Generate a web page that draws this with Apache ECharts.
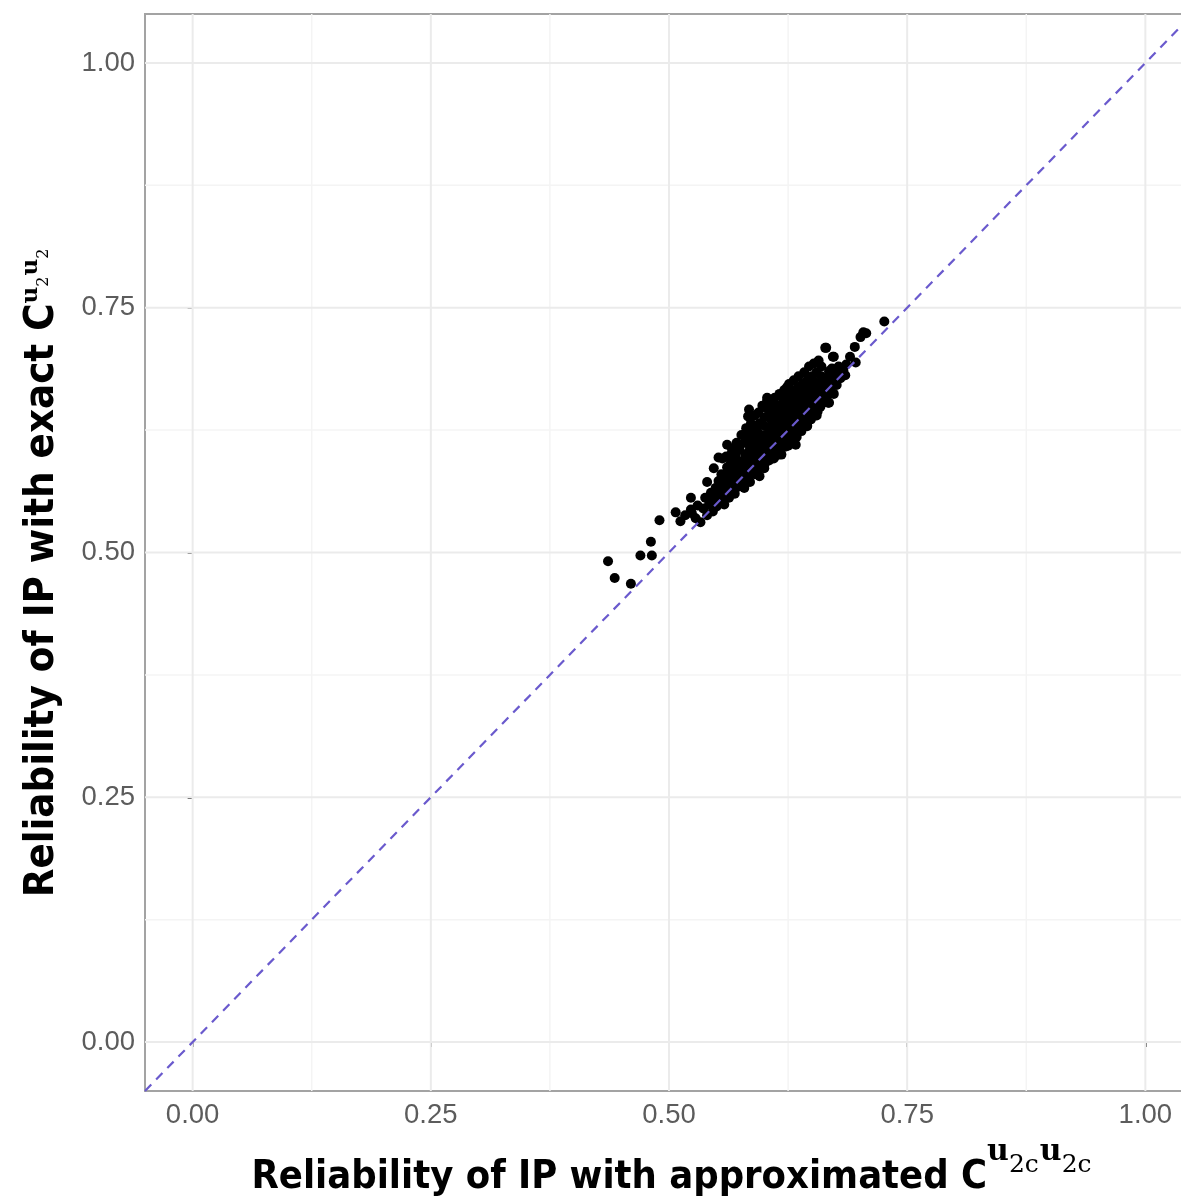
<!DOCTYPE html>
<html>
<head>
<meta charset="utf-8">
<script src="https://cdn.jsdelivr.net/npm/echarts@6/dist/echarts.min.js"></script>
<style>
html,body{margin:0;padding:0;background:#fff;}
#chart{width:1181px;height:1200px;}
</style>
</head>
<body>
<div id="chart"></div>
<script>
// ---- data ----
var tickValues = [0, 0.25, 0.5, 0.75, 1.0];
var minorValues = [0.125, 0.375, 0.625, 0.875];
var axisRange = [-0.05, 1.05];

// scattered low / high points  [approximated, exact]
var outlierPoints = [
  [0.436,0.491],[0.443,0.474],[0.460,0.468],[0.470,0.497],[0.482,0.497],
  [0.481,0.511],[0.490,0.533],[0.507,0.541],[0.512,0.532],[0.517,0.538],
  [0.523,0.544],[0.523,0.556],
  [0.726,0.736],[0.704,0.725],[0.701,0.720],[0.707,0.724],[0.665,0.709],
  [0.673,0.700],[0.696,0.694],[0.625,0.669],[0.668,0.653],[0.695,0.710],
  [0.690,0.700],[0.686,0.692]
];

// dense cluster
var clusterPoints = [
  [0.524,0.540],[0.528,0.535],[0.530,0.548],[0.533,0.531],[0.536,0.545],[0.538,0.556],[0.540,0.538],[0.542,0.549],[0.544,0.561],[0.546,0.542],[0.547,0.553],[0.549,0.566],
  [0.550,0.547],[0.551,0.558],[0.552,0.573],[0.553,0.552],[0.554,0.564],[0.555,0.580],[0.556,0.556],[0.557,0.569],[0.558,0.549],[0.559,0.575],[0.560,0.561],[0.561,0.587],[0.562,0.568],[0.563,0.556],[0.564,0.578],
  [0.565,0.592],[0.566,0.563],[0.567,0.572],[0.568,0.584],[0.569,0.560],[0.570,0.598],[0.571,0.576],[0.572,0.567],[0.573,0.588],[0.574,0.605],[0.575,0.580],[0.576,0.571],[0.577,0.593],[0.578,0.584],[0.579,0.566],[0.580,0.600],
  [0.581,0.612],[0.582,0.578],[0.583,0.590],[0.584,0.603],[0.585,0.572],[0.586,0.596],[0.587,0.585],[0.588,0.617],[0.589,0.607],[0.590,0.580],[0.591,0.599],[0.592,0.590],[0.593,0.623],[0.594,0.610],[0.595,0.586],[0.596,0.603],[0.597,0.594],[0.598,0.615],[0.599,0.630],[0.600,0.589],
  [0.601,0.607],[0.602,0.598],[0.603,0.655],[0.604,0.620],[0.605,0.594],[0.606,0.611],[0.607,0.636],[0.608,0.603],[0.609,0.624],[0.610,0.615],[0.611,0.598],[0.612,0.641],[0.613,0.609],[0.614,0.628],[0.615,0.619],[0.616,0.604],[0.617,0.645],[0.618,0.632],[0.619,0.612],[0.620,0.624],
  [0.621,0.651],[0.622,0.608],[0.623,0.637],[0.624,0.669],[0.625,0.617],[0.626,0.628],[0.627,0.645],[0.628,0.612],[0.629,0.657],[0.630,0.632],[0.631,0.621],[0.632,0.648],[0.633,0.638],[0.634,0.618],[0.635,0.660],[0.636,0.627],[0.637,0.643],[0.638,0.652],[0.639,0.624],[0.640,0.635],
  [0.641,0.663],[0.642,0.630],[0.643,0.646],[0.644,0.656],[0.645,0.629],[0.646,0.640],[0.647,0.668],[0.648,0.650],[0.649,0.636],[0.650,0.659],[0.651,0.645],[0.652,0.675],[0.653,0.640],[0.654,0.664],[0.655,0.652],[0.656,0.644],[0.657,0.671],[0.658,0.658],[0.659,0.649],[0.660,0.680],
  [0.661,0.664],[0.662,0.654],[0.664,0.709],[0.665,0.670],[0.666,0.660],[0.667,0.653],[0.668,0.685],[0.669,0.666],[0.670,0.676],[0.672,0.700],[0.673,0.662],[0.674,0.682],[0.676,0.671],[0.678,0.690],[0.680,0.678],[0.683,0.686],[0.685,0.681],
  [0.545,0.550],[0.548,0.558],[0.553,0.560],[0.557,0.562],[0.560,0.572],[0.562,0.580],[0.566,0.575],[0.568,0.569],[0.570,0.582],[0.572,0.592],[0.575,0.587],[0.577,0.578],[0.579,0.590],[0.581,0.596],[0.583,0.583],[0.585,0.608],[0.586,0.590],[0.588,0.599],[0.590,0.610],[0.591,0.587],
  [0.593,0.601],[0.595,0.615],[0.596,0.597],[0.598,0.606],[0.600,0.620],[0.601,0.600],[0.603,0.613],[0.604,0.628],[0.606,0.604],[0.607,0.620],[0.609,0.611],[0.610,0.632],[0.612,0.620],[0.613,0.603],[0.615,0.635],[0.616,0.614],[0.618,0.625],[0.619,0.640],[0.621,0.620],[0.622,0.632],
  [0.624,0.645],[0.625,0.625],[0.627,0.635],[0.628,0.650],[0.630,0.622],[0.631,0.640],[0.633,0.655],[0.634,0.630],[0.636,0.648],[0.637,0.635],[0.639,0.660],[0.640,0.645],[0.642,0.640],[0.643,0.655],[0.645,0.648],[0.646,0.665],[0.648,0.641],[0.649,0.660],[0.651,0.652],[0.652,0.665],
  [0.654,0.648],[0.655,0.672],[0.657,0.660],[0.659,0.668],[0.661,0.674],[0.663,0.662],[0.665,0.678],[0.667,0.670],[0.670,0.668],[0.671,0.688],[0.675,0.678],[0.677,0.684],[0.579,0.575],[0.584,0.594],[0.592,0.605],[0.597,0.610],[0.602,0.608],[0.605,0.616],[0.608,0.627],[0.611,0.622],
  [0.614,0.612],[0.617,0.628],[0.620,0.636],[0.623,0.626],[0.626,0.640],[0.629,0.632],[0.632,0.628],[0.635,0.645],[0.638,0.640],[0.641,0.650],[0.644,0.644],[0.647,0.657],[0.650,0.648],[0.653,0.658],[0.656,0.665],[0.658,0.652],
  [0.584,0.646],[0.583,0.639],[0.552,0.597],[0.547,0.586],[0.540,0.572],[0.603,0.658],[0.641,0.629],[0.633,0.610],[0.618,0.600],[0.595,0.578],
  [0.556,0.596],[0.561,0.610],[0.566,0.606],[0.571,0.612],[0.576,0.620],[0.581,0.627],[0.586,0.632],[0.590,0.640],[0.594,0.643],[0.598,0.650],[0.602,0.648],
  [0.607,0.652],[0.611,0.658],[0.616,0.662],[0.621,0.666],[0.626,0.672],[0.631,0.676],[0.636,0.680],[0.642,0.684],[0.647,0.690],[0.652,0.693],[0.657,0.696],
  [0.560,0.598],[0.565,0.600],[0.570,0.605],[0.575,0.610],[0.580,0.618],[0.585,0.622],[0.590,0.628],[0.595,0.632],[0.600,0.638],[0.605,0.642],[0.610,0.648],
  [0.615,0.650],[0.620,0.656],[0.625,0.660],[0.630,0.664],[0.635,0.668],[0.640,0.672],[0.645,0.676],[0.650,0.680],[0.655,0.684],[0.660,0.690],
  [0.600,0.586],[0.615,0.600],[0.630,0.615],[0.645,0.630],[0.655,0.640],[0.625,0.609],[0.610,0.596]
];

var xTitle = '{m|Reliability of IP with approximated C}{u|u}{s|2c}{u|u}{s|2c}';
var yTitle = '{m|Reliability of IP with exact C}{u|u}{s|2}{u|u}{s|2}';

// ---- chart ----
var chart = echarts.init(document.getElementById('chart'), null, {renderer: 'canvas'});

var mainFont = '"Liberation Sans Narrow","DejaVu Sans Condensed",sans-serif';
var mathFont = '"DejaVu Serif","Liberation Serif",serif';
var xRich = {
  m: {fontFamily: mainFont, fontWeight: 'bold', fontSize: 39.5, color: '#000', verticalAlign: 'bottom'},
  u: {fontFamily: mathFont, fontWeight: 'bold', fontSize: 30, color: '#000', verticalAlign: 'bottom', padding: [0, 0, 31, 0]},
  s: {fontFamily: mathFont, fontWeight: 'normal', fontSize: 25, color: '#000', verticalAlign: 'bottom', padding: [0, 1, 20, 0]}
};
var yRich = {
  m: {fontFamily: mainFont, fontWeight: 'bold', fontSize: 41.5, color: '#000', verticalAlign: 'bottom'},
  u: {fontFamily: mathFont, fontWeight: 'bold', fontSize: 23, color: '#000', verticalAlign: 'bottom', padding: [0, 0, 20, 0]},
  s: {fontFamily: mathFont, fontWeight: 'normal', fontSize: 16, color: '#000', verticalAlign: 'bottom', padding: [0, 1, 11, 0]}
};

function gridLineSeries(v, isX, color, width) {
  var data = isX ? [[v, axisRange[0]], [v, axisRange[1]]] : [[axisRange[0], v], [axisRange[1], v]];
  return {type: 'line', data: data, symbol: 'none', silent: true, z: 1,
          lineStyle: {color: color, width: width}, animation: false};
}

var series = [];
minorValues.forEach(function (v) {
  series.push(gridLineSeries(v, true, '#f4f4f4', 1.5));
  series.push(gridLineSeries(v, false, '#f4f4f4', 1.5));
});
tickValues.forEach(function (v) {
  series.push(gridLineSeries(v, true, '#ebebeb', 2));
  series.push(gridLineSeries(v, false, '#ebebeb', 2));
});
series.push({type: 'scatter', data: clusterPoints.concat(outlierPoints), symbolSize: 10,
             itemStyle: {color: '#000', opacity: 1}, z: 3, silent: true});
series.push({type: 'line', data: [[axisRange[0], axisRange[0]], [axisRange[1], axisRange[1]]],
             symbol: 'none', z: 4, silent: true,
             lineStyle: {color: '#6a5acd', width: 2.2, type: [9, 7]}});

var axisCommon = {
  type: 'value', min: axisRange[0], max: axisRange[1],
  axisLine: {show: false},
  axisTick: {show: true, customValues: tickValues, length: 5, lineStyle: {color: '#555', width: 2}},
  axisLabel: {customValues: tickValues, formatter: function (v) { return v.toFixed(2); },
              color: '#5c5c5c', fontSize: 27.5, margin: 10, fontFamily: '"Liberation Sans",Arial,sans-serif'},
  splitLine: {show: false},
  minorSplitLine: {show: false},
  nameLocation: 'middle'
};

chart.setOption({
  animation: false,
  backgroundColor: '#fff',
  grid: {left: 145, right: -12, top: 14, bottom: 109, show: true, borderColor: '#a3a3a3', borderWidth: 2,
         backgroundColor: '#fff', containLabel: false, outerBoundsMode: 'none'},
  xAxis: Object.assign({}, axisCommon, {
    name: xTitle, nameGap: 46,
    nameTextStyle: {rich: xRich, padding: [0, 0, 0, 6]}
  }),
  yAxis: Object.assign({}, axisCommon, {
    name: yTitle, nameGap: 82, nameRotate: 90,
    nameTextStyle: {rich: yRich, padding: [0, 40, 0, 0]}
  }),
  series: series
});
</script>
</body>
</html>
